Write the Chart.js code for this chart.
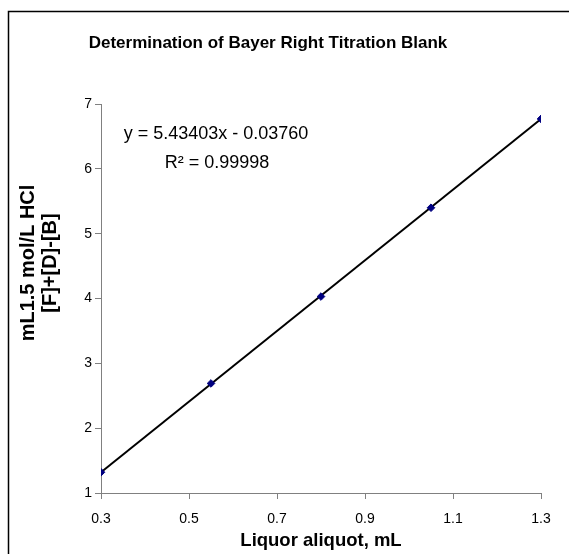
<!DOCTYPE html>
<html>
<head>
<meta charset="utf-8">
<script src="https://cdn.jsdelivr.net/npm/chart.js@4/dist/chart.umd.min.js"></script>
<style>
html,body{margin:0;padding:0;background:#fff;}
#wrap{width:569px;height:554px;position:relative;}
</style>
</head>
<body>
<div id="wrap"><canvas id="c" width="569" height="554"></canvas></div>
<script>
// Data
const aliquotML = [0.3, 0.55, 0.8, 1.05, 1.3];
const hclML = [1.32, 2.69, 4.03, 5.40, 6.77];
const trendX = [0.3, 1.3];
const trendY = [1.32, 6.77];
const xTicks = [0.3, 0.5, 0.7, 0.9, 1.1, 1.3];
const yTicks = [1, 2, 3, 4, 5, 6, 7];

const titleText = 'Determination of Bayer Right Titration Blank';
const xTitle = 'Liquor aliquot, mL';
const yTitleLines = ['mL1.5 mol/L HCl', '[F]+[D]-[B]'];
const eqLines = ['y = 5.43403x - 0.03760', 'R² = 0.99998'];

const FONT = '"Liberation Sans", Arial, sans-serif';

const decor = {
  id: 'decor',
  beforeDraw(chart) {
    const ctx = chart.ctx;
    ctx.save();
    ctx.fillStyle = '#fff';
    ctx.fillRect(0, 0, chart.width, chart.height);
    ctx.strokeStyle = '#000';
    ctx.lineWidth = 1.5;
    ctx.beginPath();
    ctx.moveTo(8.5, chart.height + 5);
    ctx.lineTo(8.5, 11.5);
    ctx.lineTo(chart.width + 5, 11.5);
    ctx.stroke();
    ctx.restore();
  },
  afterDraw(chart) {
    const ctx = chart.ctx;
    const a = chart.chartArea;
    ctx.save();
    ctx.fillStyle = '#000';
    ctx.textAlign = 'center';
    ctx.textBaseline = 'middle';
    ctx.font = 'bold 17px ' + FONT;
    ctx.fillText(titleText, 268, 43);
    ctx.font = 'bold 18.5px ' + FONT;
    ctx.fillText(xTitle, (a.left + a.right) / 2, 541);
    ctx.save();
    ctx.translate(28, 263);
    ctx.rotate(-Math.PI / 2);
    ctx.font = 'bold 20px ' + FONT;
    ctx.fillText(yTitleLines[0], 0, 0);
    ctx.fillText(yTitleLines[1], 0, 22);
    ctx.restore();
    // trendline label
    ctx.font = '18px ' + FONT;
    ctx.fillText(eqLines[0], 216, 134);
    ctx.fillText(eqLines[1], 217, 163);
    ctx.restore();
  }
};

new Chart(document.getElementById('c'), {
  type: 'scatter',
  data: {
    datasets: [
      {
        label: 'trend',
        data: trendX.map((x, i) => ({x, y: trendY[i]})),
        showLine: true,
        borderColor: '#000',
        borderWidth: 2,
        pointRadius: 0,
        order: 2
      },
      {
        label: 'data',
        data: aliquotML.map((x, i) => ({x, y: hclML[i]})),
        pointStyle: 'rectRot',
        pointRadius: 3.8,
        backgroundColor: '#000080',
        borderColor: '#000080',
        borderWidth: 1,
        order: 1
      }
    ]
  },
  options: {
    responsive: false,
    animation: false,
    devicePixelRatio: 1,
    layout: { padding: { left: 0, top: 104, right: 28, bottom: 0 } },
    plugins: { legend: { display: false }, tooltip: { enabled: false }, title: { display: false } },
    scales: {
      x: {
        type: 'linear',
        min: 0.3, max: 1.3,
        afterBuildTicks: s => { s.ticks = xTicks.map(v => ({value: v})); },
        afterFit: s => { s.height = 61; },
        grid: { display: true, drawOnChartArea: false, drawTicks: true, tickLength: 6, color: '#808080' },
        border: { color: '#808080', width: 1 },
        ticks: { color: '#000', font: { family: FONT, size: 14 }, padding: 12, maxRotation: 0,
                 callback: v => v.toFixed(1) }
      },
      y: {
        type: 'linear',
        min: 1, max: 7,
        afterBuildTicks: s => { s.ticks = yTicks.map(v => ({value: v})); },
        afterFit: s => { s.width = 101; },
        grid: { display: true, drawOnChartArea: false, drawTicks: true, tickLength: 6, color: '#808080' },
        border: { color: '#808080', width: 1 },
        ticks: { color: '#000', font: { family: FONT, size: 14 }, padding: 3,
                 callback: v => String(v) }
      }
    }
  },
  plugins: [decor]
});
</script>
</body>
</html>
